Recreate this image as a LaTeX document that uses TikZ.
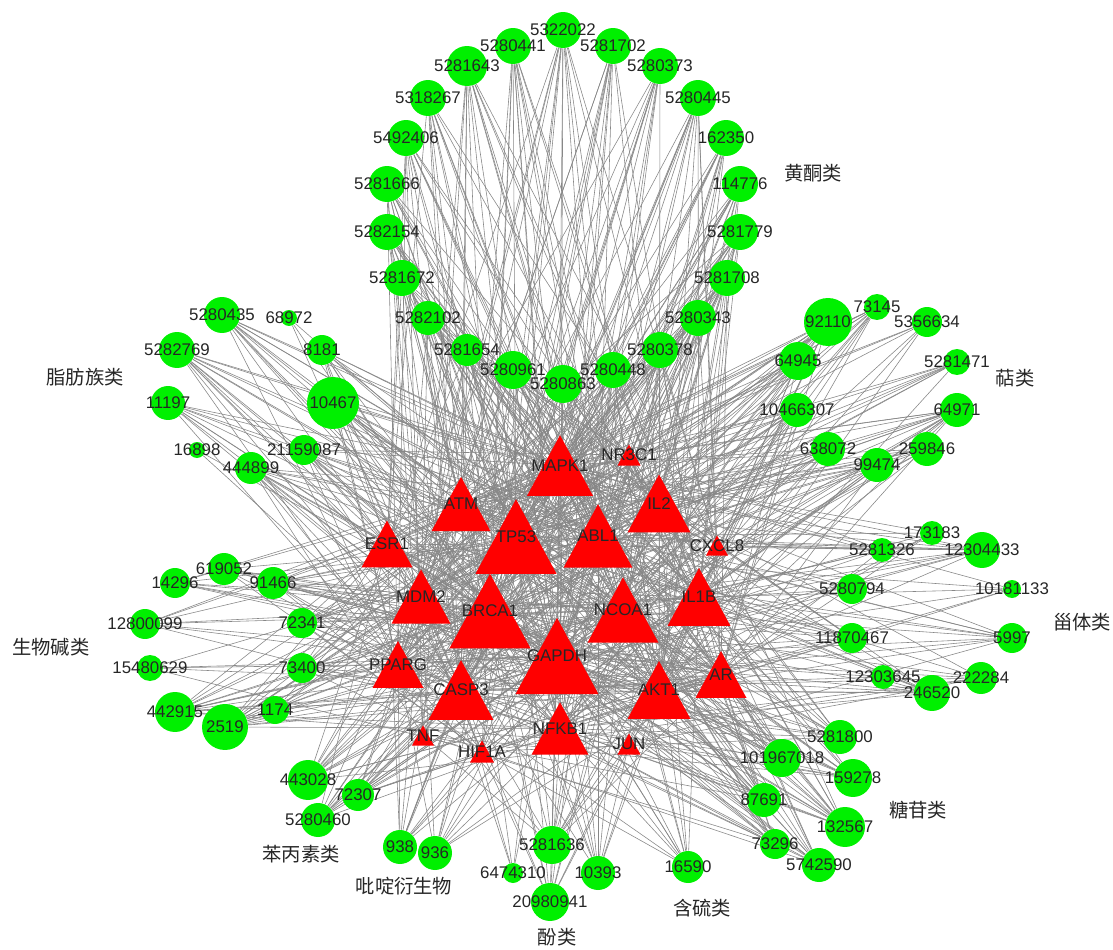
\documentclass[tikz,border=0pt]{standalone}
\usepackage{fontspec}
\setmainfont{Liberation Sans}
\newfontfamily\cjkfont{Noto Sans CJK SC}
\usepackage{tikz}
\usetikzlibrary{backgrounds}
\definecolor{cpdgreen}{RGB}{0,240,0}
\definecolor{genered}{RGB}{255,0,0}
\definecolor{edgegray}{RGB}{135,135,135}

% target: name, x, y (middle of height), half base width
\newcommand{\gene}[4]{%
  \fill[genefill] ({#2-#4},{#3+0.92*#4}) -- ({#2},{#3-0.92*#4}) -- ({#2+#4},{#3+0.92*#4}) -- cycle;
  \node[genetext] (#1) at (#2,#3) {#1};}

\begin{document}
\begin{tikzpicture}[x=0.02cm, y=-0.02cm, font=\fontsize{9.6}{11}\selectfont]
  \tikzset{
    cpd/.style={circle, fill=cpdgreen, inner sep=0pt},
    cpdtext/.style={inner sep=0pt, text=black!85},
    genefill/.style={fill=genered},
    genetext/.style={inner sep=0pt, text=black!85},
    link/.style={draw=edgegray, line width=0.33pt},
    group/.style={font=\cjkfont\fontsize{11}{13}\selectfont, text=black!85}
  }
  \useasboundingbox (0,0) rectangle (1113,950);
  \pgfmathsetseed{17}
  \def\genelist{MAPK1/0.8, NR3C1/0.28, ATM/0.71, IL2/0.76, TP53/0.98, ABL1/0.83,
    ESR1/0.61, CXCL8/0.27, MDM2/0.71, BRCA1/0.98, NCOA1/0.86, IL1B/0.76,
    GAPDH/1, PPARG/0.61, CASP3/0.78, AKT1/0.76, AR/0.61, NFKB1/0.69,
    TNF/0.27, HIF1A/0.29, JUN/0.28}
  % id/x/y/radius
  \def\cpdlist{
      5322022/563/30/18, 5280441/513/46/18, 5281702/613/46/18, 5281643/467/66/20,
      5280373/660/66/18, 5318267/428/98/18, 5280445/698/98/18, 5492406/406/138/18,
      162350/726/138/18, 5281666/387/184/18, 114776/740/184/18, 5282154/387/232/18,
      5281779/740/232/18, 5281672/402/278/18, 5281708/727/278/18, 5282102/428/318/17,
      5280343/698/318/18, 5281654/467/350/16, 5280378/660/350/18, 5280961/513/370/19,
      5280448/613/370/18, 5280863/563/384/19,
      5280435/222/315/18, 68972/289/318/8, 5282769/177/350/18, 8181/322/350/15,
      11197/168/403/17, 10467/333/403/26, 16898/197/450/8, 21159087/304/450/15,
      444899/251/468/16,
      73145/877/307/13, 92110/828/322/24, 5356634/927/322/15, 64945/798/361/19,
      5281471/957/362/13, 10466307/797/410/17, 64971/957/410/17, 638072/828/449/17,
      259846/927/449/17, 99474/877/465/17,
      619052/224/569/16, 14296/175/583/15, 91466/273/583/16, 12800099/145/624/15,
      72341/302/623/15, 15480629/150/668/13, 73400/302/668/15, 442915/175/712/20,
      1174/275/710/14, 2519/225/727/23,
      173183/932/533/12, 5281326/882/550/12, 12304433/982/550/18, 5280794/852/589/15,
      10181133/1012/589/9, 11870467/852/638/15, 5997/1012/638/15, 12303645/883/677/12,
      222284/981/678/16, 246520/932/693/18,
      443028/308/780/20, 72307/358/795/16, 5280460/318/820/17, 938/400/847/17,
      936/435/853/17, 6474310/513/873/10, 5281636/552/845/19, 20980941/550/902/19,
      10393/598/873/17, 16590/688/867/16,
      5281800/840/737/17, 101967018/782/758/19, 159278/853/778/19, 87691/764/800/17,
      132567/845/827/20, 73296/775/844/15, 5742590/819/865/17}

  % targets (red triangles)
  \gene{MAPK1}{560}{465.5}{33}
  \gene{NR3C1}{629}{455}{11.5}
  \gene{ATM}{461}{504}{29.5}
  \gene{IL2}{659}{503.5}{31.5}
  \gene{TP53}{516}{536.5}{40.5}
  \gene{ABL1}{598}{536}{34.5}
  \gene{ESR1}{387}{544}{25.5}
  \gene{CXCL8}{717}{545.5}{11}
  \gene{MDM2}{421}{596.5}{29.5}
  \gene{BRCA1}{490}{611}{40.5}
  \gene{NCOA1}{623}{610}{35.5}
  \gene{IL1B}{699}{597}{31.5}
  \gene{GAPDH}{557}{656}{41.5}
  \gene{PPARG}{398}{664.5}{25.5}
  \gene{CASP3}{461}{690}{32.5}
  \gene{AKT1}{659}{690}{31.5}
  \gene{AR}{721}{674.5}{25.5}
  \gene{NFKB1}{560}{728.5}{28.5}
  \gene{TNF}{423}{735.5}{11}
  \gene{HIF1A}{482}{751.5}{12}
  \gene{JUN}{629}{744}{11.5}

  % compounds (green circles) and their links, bigger circle = more links
  \foreach \id/\x/\y/\rad in \cpdlist {
    \node[cpd, minimum size=\rad*0.04cm] (c\id) at (\x,\y) {};
    \begin{scope}[on background layer]
      \foreach \g/\w in \genelist {
        \pgfmathtruncatemacro\hit{rnd < (\rad-5)/14*\w}
        \ifnum\hit=1 \draw[link] (c\id) -- (\g); \fi
      }
    \end{scope}
  }
  % compound ids on top of all circles
  \foreach \id/\x/\y/\rad in \cpdlist
    \node[cpdtext] (t\id) at (c\id) {\id};

  % compound classes
  \node[group] (flavone) at (813,173) {黄酮类};
  \node[group] (fatty) at (85,377) {脂肪族类};
  \node[group] (terpene) at (1015,378) {萜类};
  \node[group] (alkaloid) at (51,647) {生物碱类};
  \node[group] (steroid) at (1082,622) {甾体类};
  \node[group] (glycoside) at (918,810) {糖苷类};
  \node[group] (phenylprop) at (301,854) {苯丙素类};
  \node[group] (pyridine) at (404,886) {吡啶衍生物};
  \node[group] (phenol) at (557,937) {酚类};
  \node[group] (sulfur) at (702,908) {含硫类};
\end{tikzpicture}
\end{document}
